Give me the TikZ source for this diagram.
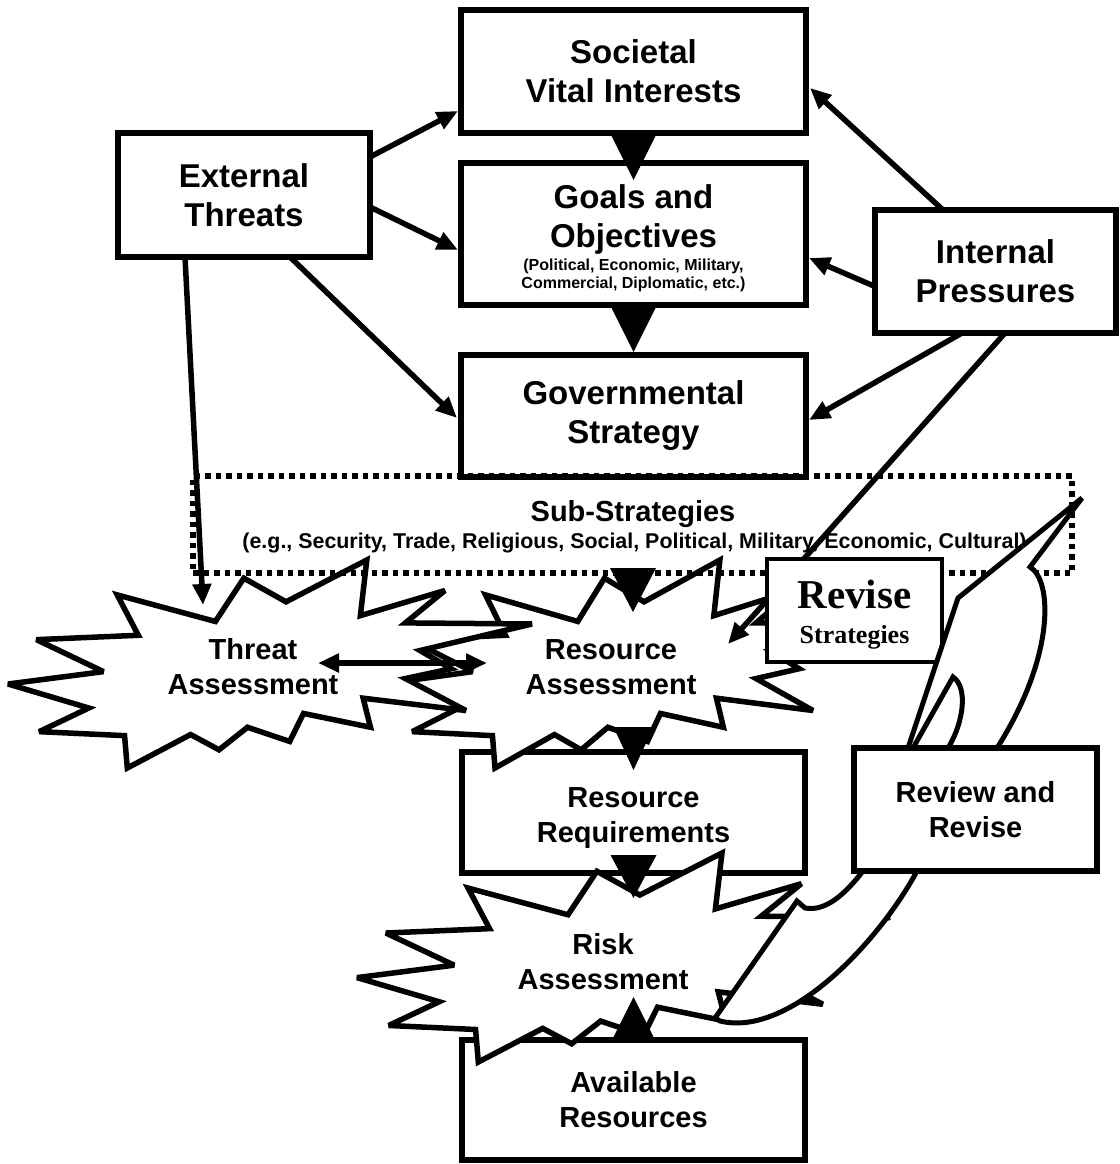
\documentclass[tikz,border=0pt]{standalone}
\usepackage{fontspec}
\setmainfont{Liberation Sans}
\newfontfamily\revisefont{Liberation Serif}
\usetikzlibrary{arrows.meta,calc}

\newcommand\bigtext{\fontsize{33}{39}\selectfont\bfseries}
\newcommand\midtext{\fontsize{29}{35}\selectfont\bfseries}
\newcommand\smalltext{\fontsize{16}{18}\selectfont\bfseries}
\newcommand\listtext{\fontsize{21.4}{24}\selectfont\bfseries}

% Explosion outline (irregular 24-point seal) in a 216 x 216 unit square,
% placed at (#1,#2) and stretched to #3 x #4
\newcommand\drawburst[4]{%
  \begin{scope}[shift={(#1,#2)},xscale=#3/216,yscale=#4/216]
    \filldraw[burst] (114.62,43.42) -- (147.90,0) -- (145.25,57.77) -- (180.07,31.72)
      -- (163.80,65.32) -- (216,66.45) -- (169.85,94.02) -- (182.70,112.90)
      -- (163.80,123.10) -- (188.77,156.32) -- (146.40,143.50) -- (149.42,173.70)
      -- (121.80,159.35) -- (116.12,188.42) -- (98.72,173.70) -- (87.00,197.12)
      -- (75.27,181.25) -- (49.17,216) -- (48.05,182.40) -- (12.85,178.25)
      -- (33.30,153.70) -- (0,128.77) -- (39.35,115.92) -- (11.72,82.70)
      -- (53.72,78.17) -- (45.02,36.25) -- (85.50,63.82) -- (97.22,18.87) -- cycle;
  \end{scope}}

\tikzset{
  box/.style={draw, line width=5.5pt, fill=white, inner sep=0pt, outer sep=0pt,
    align=center, font=\bigtext},
  lowbox/.style={box, font=\midtext},
  textline/.style={anchor=base, inner sep=0pt},
  burst/.style={draw, fill=white, line width=5.5pt, line join=miter, miter limit=3},
  burstlabel/.style={font=\midtext, align=center},
  arr/.style={line width=5.5pt, -{Triangle[length=21pt,width=18pt]}},
  twoway/.style={line width=5.5pt,
    {Triangle[length=21pt,width=18pt]}-{Triangle[length=21pt,width=18pt]}},
  blockhead/.style={fill=black},
  frame/.style={draw, line width=5.5pt, dash pattern=on 5.5pt off 5pt, inner sep=0pt,
    outer sep=0pt},
  tail/.style={draw, fill=white, line width=5pt, line join=miter, miter limit=4}
}

\begin{document}
\begin{tikzpicture}[x=1pt,y=-1pt]
\useasboundingbox (0,0) rectangle (1119,1164);

% main chain and the two outside influences
\node[box, minimum width=345pt, minimum height=123pt] (soc) at (633.5,71.5) {Societal\\Vital Interests};
\node[box, minimum width=345pt, minimum height=142pt] (goal) at (633.5,234) {};
\node[textline, font=\bigtext] (goal1) at (633.5,208) {Goals and};
\node[textline, font=\bigtext] (goal2) at (633.5,247) {Objectives};
\node[textline, font=\smalltext] (goal3) at (633.5,270) {(Political, Economic, Military,};
\node[textline, font=\smalltext] (goal4) at (633.5,288) {Commercial, Diplomatic, etc.)};
\node[box, minimum width=345pt, minimum height=122pt] (gov) at (633.5,416) {Governmental\\Strategy};
\node[box, minimum width=252pt, minimum height=124pt] (ext) at (244,195) {External\\Threats};
\node[box, minimum width=241pt, minimum height=123pt] (int) at (995.5,271.5) {Internal\\Pressures};

% lower chain
\node[lowbox, minimum width=343pt, minimum height=121pt] (req) at (633.5,812.5) {};
\node[textline, font=\midtext] (req1) at (633.5,807) {Resource};
\node[textline, font=\midtext] (req2) at (633.5,842) {Requirements};
\node[lowbox, minimum width=343pt, minimum height=120pt] (avail) at (633.5,1100) {Available\\Resources};

% assessments
\drawburst{383}{560}{492}{208}
\drawburst{8}{560}{524}{208}
\drawburst{357}{853}{533}{209}
\node[burstlabel] (res) at (611,667) {Resource\\Assessment};
\node[burstlabel] (thr) at (253,667) {Threat\\Assessment};
\node[burstlabel] (risk) at (603,962) {Risk\\Assessment};

% sub-strategies band
\node[frame, minimum width=879pt, minimum height=97pt] (sub) at (632.5,524.5) {};
\node[font=\midtext] (subhead) at (633,514) {Sub-Strategies};
\node[font=\listtext] (sublist) at (634.5,543)
  {(e.g., Security, Trade, Religious, Social, Political, Military, Economic, Cultural)};

% connectors
\coordinate (thr-in) at (203,605);
\coordinate (res-in) at (728,644);
\draw[arr] ($(ext.north east)+(0,24)$) -- ($(soc.north west)+(-3,101)$);
\draw[arr] ($(ext.north east)+(0,74)$) -- ($(goal.north west)+(-3,87)$);
\draw[arr] ($(ext.south west)+(172,0)$) -- ($(gov.north west)+(-4,63)$);
\draw[arr] ($(ext.south west)+(67,0)$) -- (thr-in);
\draw[arr] ($(int.north west)+(68,0)$) -- ($(soc.north east)+(4,78)$);
\draw[arr] ($(int.west)+(0,15)$) -- ($(goal.east)+(3,24)$);
\draw[arr] ($(int.south west)+(87,0)$) -- ($(gov.east)+(3,4)$);
\draw[arr] ($(int.south west)+(130,0)$) -- (res-in);

% revise strategies label
\node[box, line width=4.5pt, minimum width=175pt, minimum height=103pt] (revise) at (854.5,610.5) {};
\node[textline, font=\revisefont\bfseries\fontsize{41}{45}\selectfont] (rev1) at (854.5,608) {Revise};
\node[textline, font=\revisefont\bfseries\fontsize{26}{30}\selectfont] (rev2) at (854.5,643) {Strategies};

% block arrow heads along the chain
\fill[blockhead] ($(soc.south)+(-22,3)$) -- ($(soc.south)+(22,3)$) -- ($(goal.north)+(0,17)$) -- cycle;
\fill[blockhead] ($(goal.south)+(-22,3)$) -- ($(goal.south)+(22,3)$) -- ($(gov.north)+(0,-3)$) -- cycle;
\fill[blockhead] ($(sub.south)+(-22.5,-5)$) -- ($(sub.south)+(23.5,-5)$) -- ($(sub.south)+(0.5,39)$) -- cycle;
\fill[blockhead] ($(req.north)+(-20,-25)$) -- ($(req.north)+(20,-25)$) -- ($(req.north)+(0,18)$) -- cycle;
\fill[blockhead] ($(req.south)+(-23,-18)$) -- ($(req.south)+(23,-18)$) -- ($(req.south)+(0,25)$) -- cycle;
\fill[blockhead] ($(avail.north)+(-20,-3)$) -- ($(avail.north)+(20,-3)$) -- ($(avail.north)+(0,-43)$) -- cycle;

% threat <-> resource exchange
\draw[twoway] ($(thr.center)+(65,-4)$) -- ($(res.center)+(-124,-4)$);

% review callout with its two tails
\filldraw[tail] (908,748) -- (958,598) -- (1082,498) -- (1030,567)
  .. controls (1052,580) and (1056,655) .. (997,748) -- cycle;
\filldraw[tail] (715,1018) -- (797,901) -- (805,908)
  .. controls (826,912) and (846,893) .. (863,871) -- (913,748) -- (953,677)
  .. controls (968,687) and (964,722) .. (948,748) -- (917,871)
  .. controls (880,940) and (790,1038) .. (720,1021) -- cycle;
\node[lowbox, minimum width=243pt, minimum height=123pt] (review) at (975.5,809.5) {Review and\\Revise};
\end{tikzpicture}
\end{document}
